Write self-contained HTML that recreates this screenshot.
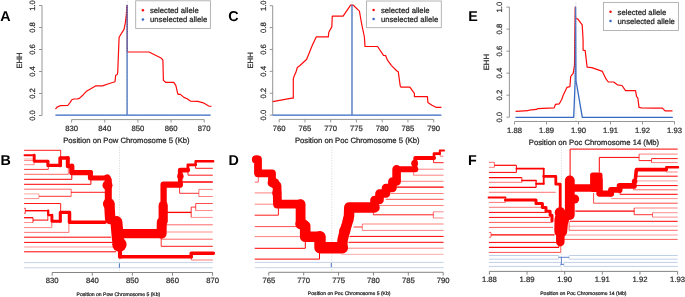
<!DOCTYPE html>
<html><head><meta charset="utf-8"><style>
html,body{margin:0;padding:0;background:#fff;width:685px;height:297px;overflow:hidden}
svg{display:block;font-family:"Liberation Sans", sans-serif;text-rendering:geometricPrecision;will-change:transform}
text{stroke:#222;stroke-width:0.22px}
text[font-weight=bold]{stroke:none}
</style></head><body>
<svg width="685" height="297" viewBox="0 0 685 297">
<rect width="685" height="297" fill="#fff"/>
<text x="0.3" y="20.6" font-size="14.3" font-weight="bold" fill="#000">A</text>
<line x1="42.00" y1="5.50" x2="42.00" y2="115.50" stroke="#8a8a8a" stroke-width="0.9" />
<line x1="39.00" y1="115.50" x2="42.00" y2="115.50" stroke="#8a8a8a" stroke-width="0.9" />
<text x="0" y="0" font-size="7.7" text-anchor="middle" fill="#333" transform="translate(35.30,115.50) rotate(-90)">0.0</text>
<line x1="39.00" y1="93.50" x2="42.00" y2="93.50" stroke="#8a8a8a" stroke-width="0.9" />
<text x="0" y="0" font-size="7.7" text-anchor="middle" fill="#333" transform="translate(35.30,93.50) rotate(-90)">0.2</text>
<line x1="39.00" y1="71.50" x2="42.00" y2="71.50" stroke="#8a8a8a" stroke-width="0.9" />
<text x="0" y="0" font-size="7.7" text-anchor="middle" fill="#333" transform="translate(35.30,71.50) rotate(-90)">0.4</text>
<line x1="39.00" y1="49.50" x2="42.00" y2="49.50" stroke="#8a8a8a" stroke-width="0.9" />
<text x="0" y="0" font-size="7.7" text-anchor="middle" fill="#333" transform="translate(35.30,49.50) rotate(-90)">0.6</text>
<line x1="39.00" y1="27.50" x2="42.00" y2="27.50" stroke="#8a8a8a" stroke-width="0.9" />
<text x="0" y="0" font-size="7.7" text-anchor="middle" fill="#333" transform="translate(35.30,27.50) rotate(-90)">0.8</text>
<line x1="39.00" y1="5.50" x2="42.00" y2="5.50" stroke="#8a8a8a" stroke-width="0.9" />
<text x="0" y="0" font-size="7.7" text-anchor="middle" fill="#333" transform="translate(35.30,5.50) rotate(-90)">1.0</text>
<text x="0" y="0" font-size="7.7" text-anchor="middle" fill="#333" transform="translate(22.30,60.50) rotate(-90)">EHH</text>
<line x1="71.60" y1="119.60" x2="204.20" y2="119.60" stroke="#8a8a8a" stroke-width="0.9" />
<line x1="71.60" y1="119.60" x2="71.60" y2="122.60" stroke="#8a8a8a" stroke-width="0.9" />
<text x="71.60" y="130.90" font-size="7.7" text-anchor="middle" fill="#333" >830</text>
<line x1="104.75" y1="119.60" x2="104.75" y2="122.60" stroke="#8a8a8a" stroke-width="0.9" />
<text x="104.75" y="130.90" font-size="7.7" text-anchor="middle" fill="#333" >840</text>
<line x1="137.90" y1="119.60" x2="137.90" y2="122.60" stroke="#8a8a8a" stroke-width="0.9" />
<text x="137.90" y="130.90" font-size="7.7" text-anchor="middle" fill="#333" >850</text>
<line x1="171.05" y1="119.60" x2="171.05" y2="122.60" stroke="#8a8a8a" stroke-width="0.9" />
<text x="171.05" y="130.90" font-size="7.7" text-anchor="middle" fill="#333" >860</text>
<line x1="204.20" y1="119.60" x2="204.20" y2="122.60" stroke="#8a8a8a" stroke-width="0.9" />
<text x="204.20" y="130.90" font-size="7.7" text-anchor="middle" fill="#333" >870</text>
<text x="126.40" y="143.30" font-size="7.7" text-anchor="middle" fill="#222" >Position on Pow Chromosome 5 (Kb)</text>
<polyline points="55.5,109.1 57.1,107.1 60.1,105.7 67.8,105.5 70.2,102.4 71.8,99.8 73.8,99.0 77.3,99.0 79.3,98.4 83.3,94.7 86.4,91.3 90.4,88.9 95.5,85.9 102.5,85.9 108.6,83.8 115.0,81.8 115.7,75.2 117.3,74.5 117.7,72.5 119.1,37.2 124.1,29.1 125.4,22.4 126.4,14.1 126.8,5.7 127.3,5.7 127.3,52.0 149.0,52.0 161.5,58.3 162.9,60.2 163.4,80.4 165.6,82.3 173.7,82.3 175.8,85.3 177.7,93.3 178.2,94.4 180.4,94.4 183.9,97.4 187.1,98.7 190.4,101.1 197.9,101.4 203.3,102.8 208.7,106.0 211.4,106.3" fill="none" stroke="#ff0a0a" stroke-width="1.2" stroke-linejoin="round" />
<polyline points="55.4,115.2 127.1,115.2 127.1,5.5 127.1,115.2 210.6,115.2" fill="none" stroke="#3568c2" stroke-width="1.3" stroke-linejoin="round" />
<line x1="127.10" y1="1.00" x2="127.10" y2="115.00" stroke="#bbb" stroke-width="0.6" stroke-dasharray="1.2,1.2"/>
<rect x="135.7" y="0.8" width="74.7" height="27.6" fill="#fff" stroke="#a8a8a8" stroke-width="0.85"/>
<circle cx="142.9" cy="10.3" r="1.25" fill="#ff0a0a"/>
<circle cx="142.9" cy="19.5" r="1.25" fill="#3568c2"/>
<text x="150.00" y="13.00" font-size="7.7" text-anchor="start" fill="#222" >selected allele</text>
<text x="150.00" y="22.20" font-size="7.7" text-anchor="start" fill="#222" >unselected allele</text>
<text x="228.3" y="20.6" font-size="14.3" font-weight="bold" fill="#000">C</text>
<line x1="272.70" y1="5.70" x2="272.70" y2="115.10" stroke="#8a8a8a" stroke-width="0.9" />
<line x1="269.70" y1="115.10" x2="272.70" y2="115.10" stroke="#8a8a8a" stroke-width="0.9" />
<text x="0" y="0" font-size="7.7" text-anchor="middle" fill="#333" transform="translate(265.90,115.10) rotate(-90)">0.0</text>
<line x1="269.70" y1="93.22" x2="272.70" y2="93.22" stroke="#8a8a8a" stroke-width="0.9" />
<text x="0" y="0" font-size="7.7" text-anchor="middle" fill="#333" transform="translate(265.90,93.22) rotate(-90)">0.2</text>
<line x1="269.70" y1="71.34" x2="272.70" y2="71.34" stroke="#8a8a8a" stroke-width="0.9" />
<text x="0" y="0" font-size="7.7" text-anchor="middle" fill="#333" transform="translate(265.90,71.34) rotate(-90)">0.4</text>
<line x1="269.70" y1="49.46" x2="272.70" y2="49.46" stroke="#8a8a8a" stroke-width="0.9" />
<text x="0" y="0" font-size="7.7" text-anchor="middle" fill="#333" transform="translate(265.90,49.46) rotate(-90)">0.6</text>
<line x1="269.70" y1="27.58" x2="272.70" y2="27.58" stroke="#8a8a8a" stroke-width="0.9" />
<text x="0" y="0" font-size="7.7" text-anchor="middle" fill="#333" transform="translate(265.90,27.58) rotate(-90)">0.8</text>
<line x1="269.70" y1="5.70" x2="272.70" y2="5.70" stroke="#8a8a8a" stroke-width="0.9" />
<text x="0" y="0" font-size="7.7" text-anchor="middle" fill="#333" transform="translate(265.90,5.70) rotate(-90)">1.0</text>
<text x="0" y="0" font-size="7.7" text-anchor="middle" fill="#333" transform="translate(252.50,60.40) rotate(-90)">EHH</text>
<line x1="279.20" y1="119.40" x2="433.70" y2="119.40" stroke="#8a8a8a" stroke-width="0.9" />
<line x1="279.20" y1="119.40" x2="279.20" y2="122.40" stroke="#8a8a8a" stroke-width="0.9" />
<text x="279.20" y="130.70" font-size="7.7" text-anchor="middle" fill="#333" >760</text>
<line x1="304.95" y1="119.40" x2="304.95" y2="122.40" stroke="#8a8a8a" stroke-width="0.9" />
<text x="304.95" y="130.70" font-size="7.7" text-anchor="middle" fill="#333" >765</text>
<line x1="330.70" y1="119.40" x2="330.70" y2="122.40" stroke="#8a8a8a" stroke-width="0.9" />
<text x="330.70" y="130.70" font-size="7.7" text-anchor="middle" fill="#333" >770</text>
<line x1="356.45" y1="119.40" x2="356.45" y2="122.40" stroke="#8a8a8a" stroke-width="0.9" />
<text x="356.45" y="130.70" font-size="7.7" text-anchor="middle" fill="#333" >775</text>
<line x1="382.20" y1="119.40" x2="382.20" y2="122.40" stroke="#8a8a8a" stroke-width="0.9" />
<text x="382.20" y="130.70" font-size="7.7" text-anchor="middle" fill="#333" >780</text>
<line x1="407.95" y1="119.40" x2="407.95" y2="122.40" stroke="#8a8a8a" stroke-width="0.9" />
<text x="407.95" y="130.70" font-size="7.7" text-anchor="middle" fill="#333" >785</text>
<line x1="433.70" y1="119.40" x2="433.70" y2="122.40" stroke="#8a8a8a" stroke-width="0.9" />
<text x="433.70" y="130.70" font-size="7.7" text-anchor="middle" fill="#333" >790</text>
<text x="357.30" y="143.30" font-size="7.7" text-anchor="middle" fill="#222" >Position on Poc Chromosome 5 (Kb)</text>
<polyline points="272.7,101.7 291.9,98.2 293.3,98.2 293.3,78.9 294.1,76.2 296.0,72.1 297.3,67.5 300.0,65.5 306.7,59.3 312.1,45.8 316.2,36.9 328.3,36.9 328.8,32.3 331.8,26.9 332.3,16.2 343.1,16.2 350.6,5.2 353.3,5.2 359.4,11.1 361.7,24.1 364.4,37.0 365.0,46.4 377.6,46.5 383.5,55.4 385.6,55.6 387.5,60.2 391.5,65.6 396.9,71.0 398.3,71.8 400.2,85.8 401.0,87.1 409.9,87.1 413.1,91.7 414.4,93.3 414.4,96.6 427.4,96.6 427.9,102.5 432.0,105.2 436.0,107.3 441.4,107.3" fill="none" stroke="#ff0a0a" stroke-width="1.2" stroke-linejoin="round" />
<polyline points="272.7,115.2 352.0,115.2 352.0,5.2 352.0,115.2 441.4,115.2" fill="none" stroke="#3568c2" stroke-width="1.3" stroke-linejoin="round" />
<line x1="352.10" y1="1.00" x2="352.10" y2="115.00" stroke="#bbb" stroke-width="0.6" stroke-dasharray="1.2,1.2"/>
<rect x="366.6" y="1.0" width="74.7" height="26.7" fill="#fff" stroke="#a8a8a8" stroke-width="0.85"/>
<circle cx="373.6" cy="9.9" r="1.25" fill="#ff0a0a"/>
<circle cx="373.6" cy="19.0" r="1.25" fill="#3568c2"/>
<text x="380.90" y="12.60" font-size="7.7" text-anchor="start" fill="#222" >selected allele</text>
<text x="380.90" y="21.70" font-size="7.7" text-anchor="start" fill="#222" >unselected allele</text>
<text x="468.2" y="20.6" font-size="14.3" font-weight="bold" fill="#000">E</text>
<line x1="509.40" y1="7.10" x2="509.40" y2="117.20" stroke="#8a8a8a" stroke-width="0.9" />
<line x1="506.40" y1="117.20" x2="509.40" y2="117.20" stroke="#8a8a8a" stroke-width="0.9" />
<text x="0" y="0" font-size="7.7" text-anchor="middle" fill="#333" transform="translate(502.30,117.20) rotate(-90)">0.0</text>
<line x1="506.40" y1="95.18" x2="509.40" y2="95.18" stroke="#8a8a8a" stroke-width="0.9" />
<text x="0" y="0" font-size="7.7" text-anchor="middle" fill="#333" transform="translate(502.30,95.18) rotate(-90)">0.2</text>
<line x1="506.40" y1="73.16" x2="509.40" y2="73.16" stroke="#8a8a8a" stroke-width="0.9" />
<text x="0" y="0" font-size="7.7" text-anchor="middle" fill="#333" transform="translate(502.30,73.16) rotate(-90)">0.4</text>
<line x1="506.40" y1="51.14" x2="509.40" y2="51.14" stroke="#8a8a8a" stroke-width="0.9" />
<text x="0" y="0" font-size="7.7" text-anchor="middle" fill="#333" transform="translate(502.30,51.14) rotate(-90)">0.6</text>
<line x1="506.40" y1="29.12" x2="509.40" y2="29.12" stroke="#8a8a8a" stroke-width="0.9" />
<text x="0" y="0" font-size="7.7" text-anchor="middle" fill="#333" transform="translate(502.30,29.12) rotate(-90)">0.8</text>
<line x1="506.40" y1="7.10" x2="509.40" y2="7.10" stroke="#8a8a8a" stroke-width="0.9" />
<text x="0" y="0" font-size="7.7" text-anchor="middle" fill="#333" transform="translate(502.30,7.10) rotate(-90)">1.0</text>
<text x="0" y="0" font-size="7.7" text-anchor="middle" fill="#333" transform="translate(489.20,62.15) rotate(-90)">EHH</text>
<line x1="514.50" y1="121.50" x2="674.50" y2="121.50" stroke="#8a8a8a" stroke-width="0.9" />
<line x1="514.50" y1="121.50" x2="514.50" y2="124.50" stroke="#8a8a8a" stroke-width="0.9" />
<text x="514.50" y="133.00" font-size="7.7" text-anchor="middle" fill="#333" >1.88</text>
<line x1="546.50" y1="121.50" x2="546.50" y2="124.50" stroke="#8a8a8a" stroke-width="0.9" />
<text x="546.50" y="133.00" font-size="7.7" text-anchor="middle" fill="#333" >1.89</text>
<line x1="578.50" y1="121.50" x2="578.50" y2="124.50" stroke="#8a8a8a" stroke-width="0.9" />
<text x="578.50" y="133.00" font-size="7.7" text-anchor="middle" fill="#333" >1.90</text>
<line x1="610.50" y1="121.50" x2="610.50" y2="124.50" stroke="#8a8a8a" stroke-width="0.9" />
<text x="610.50" y="133.00" font-size="7.7" text-anchor="middle" fill="#333" >1.91</text>
<line x1="642.50" y1="121.50" x2="642.50" y2="124.50" stroke="#8a8a8a" stroke-width="0.9" />
<text x="642.50" y="133.00" font-size="7.7" text-anchor="middle" fill="#333" >1.92</text>
<line x1="674.50" y1="121.50" x2="674.50" y2="124.50" stroke="#8a8a8a" stroke-width="0.9" />
<text x="674.50" y="133.00" font-size="7.7" text-anchor="middle" fill="#333" >1.93</text>
<text x="594.00" y="144.60" font-size="7.7" text-anchor="middle" fill="#222" >Position on Poc Chromosome 14 (Mb)</text>
<polyline points="515.6,111.4 520.1,111.2 527.7,110.7 529.0,110.2 536.5,109.4 537.8,108.6 554.2,107.9 555.5,104.3 559.3,103.8 561.8,99.3 563.1,95.5 566.9,87.4 569.9,86.7 570.7,76.5 571.9,74.8 573.2,73.3 574.5,65.2 575.2,7.1 575.6,18.5 577.7,18.9 582.2,24.9 583.1,40.0 583.1,50.1 585.2,50.6 587.1,67.1 591.8,67.6 602.4,71.4 606.0,78.9 608.3,82.0 613.7,82.0 617.3,84.8 622.0,85.5 625.5,90.7 635.5,90.7 636.6,96.6 637.8,97.8 639.0,107.3 641.5,107.8 653.0,108.1 662.4,108.1 665.1,110.9 672.5,110.9" fill="none" stroke="#ff0a0a" stroke-width="1.2" stroke-linejoin="round" />
<polyline points="515.4,117.3 573.7,117.3 575.2,80.5 575.6,7.1 576.0,80.5 582.3,117.3 672.8,117.3" fill="none" stroke="#3568c2" stroke-width="1.3" stroke-linejoin="round" />
<line x1="575.90" y1="2.50" x2="575.90" y2="121.00" stroke="#bbb" stroke-width="0.6" stroke-dasharray="1.2,1.2"/>
<rect x="603.5" y="2.4" width="74.9" height="28.1" fill="#fff" stroke="#a8a8a8" stroke-width="0.85"/>
<circle cx="610.5" cy="11.8" r="1.25" fill="#ff0a0a"/>
<circle cx="610.5" cy="21.0" r="1.25" fill="#3568c2"/>
<text x="617.60" y="14.50" font-size="7.7" text-anchor="start" fill="#222" >selected allele</text>
<text x="617.60" y="23.70" font-size="7.7" text-anchor="start" fill="#222" >unselected allele</text>
<text x="0.5" y="164.7" font-size="14.3" font-weight="bold" fill="#000">B</text>
<text x="228.4" y="164.7" font-size="14.3" font-weight="bold" fill="#000">D</text>
<text x="467.9" y="164.7" font-size="14.3" font-weight="bold" fill="#000">F</text>
<line x1="119.50" y1="147.00" x2="119.50" y2="272.00" stroke="#c8c8c8" stroke-width="0.6" stroke-dasharray="1.3,1.3"/>
<line x1="24.10" y1="262.60" x2="212.80" y2="262.60" stroke="#c5d2e8" stroke-width="1.0" />
<line x1="24.10" y1="267.80" x2="212.80" y2="267.80" stroke="#c5d2e8" stroke-width="1.0" />
<line x1="119.40" y1="263.30" x2="119.40" y2="267.80" stroke="#3a66c0" stroke-width="0.9" />
<line x1="331.80" y1="147.00" x2="331.80" y2="272.00" stroke="#c8c8c8" stroke-width="0.6" stroke-dasharray="1.3,1.3"/>
<line x1="254.70" y1="262.40" x2="443.60" y2="262.40" stroke="#c5d2e8" stroke-width="1.0" />
<line x1="254.70" y1="267.70" x2="443.60" y2="267.70" stroke="#c5d2e8" stroke-width="1.0" />
<line x1="331.30" y1="263.00" x2="331.30" y2="267.20" stroke="#3a66c0" stroke-width="0.9" />
<line x1="561.40" y1="147.00" x2="561.40" y2="272.00" stroke="#c8c8c8" stroke-width="0.6" stroke-dasharray="1.3,1.3"/>
<line x1="488.90" y1="255.50" x2="558.60" y2="255.50" stroke="#c0cfe8" stroke-width="1.0" />
<line x1="569.10" y1="255.50" x2="677.70" y2="255.50" stroke="#c0cfe8" stroke-width="1.0" />
<line x1="488.90" y1="259.20" x2="558.60" y2="259.20" stroke="#c0cfe8" stroke-width="1.0" />
<line x1="569.10" y1="259.20" x2="677.70" y2="259.20" stroke="#c0cfe8" stroke-width="1.0" />
<line x1="558.60" y1="255.50" x2="558.60" y2="259.20" stroke="#c0cfe8" stroke-width="0.8" />
<line x1="569.10" y1="255.50" x2="569.10" y2="259.20" stroke="#c0cfe8" stroke-width="0.8" />
<line x1="558.60" y1="257.30" x2="569.10" y2="257.30" stroke="#3a66c0" stroke-width="0.8" />
<line x1="561.40" y1="257.30" x2="561.40" y2="264.40" stroke="#3a66c0" stroke-width="0.8" />
<line x1="488.90" y1="262.40" x2="560.60" y2="262.40" stroke="#c0cfe8" stroke-width="1.0" />
<line x1="563.90" y1="262.40" x2="677.70" y2="262.40" stroke="#c0cfe8" stroke-width="1.0" />
<line x1="488.90" y1="266.40" x2="560.60" y2="266.40" stroke="#c0cfe8" stroke-width="1.0" />
<line x1="563.90" y1="266.40" x2="677.70" y2="266.40" stroke="#c0cfe8" stroke-width="1.0" />
<line x1="560.60" y1="262.40" x2="560.60" y2="266.40" stroke="#c0cfe8" stroke-width="0.8" />
<line x1="563.90" y1="262.40" x2="563.90" y2="266.40" stroke="#c0cfe8" stroke-width="0.8" />
<line x1="560.60" y1="264.40" x2="563.90" y2="264.40" stroke="#3a66c0" stroke-width="0.8" />
<line x1="52.20" y1="272.50" x2="212.60" y2="272.50" stroke="#777" stroke-width="0.9" />
<line x1="52.20" y1="272.50" x2="52.20" y2="275.70" stroke="#777" stroke-width="0.9" />
<text x="52.20" y="283.30" font-size="7.7" text-anchor="middle" fill="#333" >830</text>
<line x1="92.30" y1="272.50" x2="92.30" y2="275.70" stroke="#777" stroke-width="0.9" />
<text x="92.30" y="283.30" font-size="7.7" text-anchor="middle" fill="#333" >840</text>
<line x1="132.40" y1="272.50" x2="132.40" y2="275.70" stroke="#777" stroke-width="0.9" />
<text x="132.40" y="283.30" font-size="7.7" text-anchor="middle" fill="#333" >850</text>
<line x1="172.50" y1="272.50" x2="172.50" y2="275.70" stroke="#777" stroke-width="0.9" />
<text x="172.50" y="283.30" font-size="7.7" text-anchor="middle" fill="#333" >860</text>
<line x1="212.60" y1="272.50" x2="212.60" y2="275.70" stroke="#777" stroke-width="0.9" />
<text x="212.60" y="283.30" font-size="7.7" text-anchor="middle" fill="#333" >870</text>
<text x="118.40" y="295.60" font-size="5.1" text-anchor="middle" fill="#222" >Position on Pow Chromosome 5 (Kb)</text>
<line x1="268.80" y1="272.30" x2="443.20" y2="272.30" stroke="#777" stroke-width="0.9" />
<line x1="268.80" y1="272.30" x2="268.80" y2="275.50" stroke="#777" stroke-width="0.9" />
<text x="268.80" y="283.20" font-size="7.7" text-anchor="middle" fill="#333" >765</text>
<line x1="303.68" y1="272.30" x2="303.68" y2="275.50" stroke="#777" stroke-width="0.9" />
<text x="303.68" y="283.20" font-size="7.7" text-anchor="middle" fill="#333" >770</text>
<line x1="338.56" y1="272.30" x2="338.56" y2="275.50" stroke="#777" stroke-width="0.9" />
<text x="338.56" y="283.20" font-size="7.7" text-anchor="middle" fill="#333" >775</text>
<line x1="373.44" y1="272.30" x2="373.44" y2="275.50" stroke="#777" stroke-width="0.9" />
<text x="373.44" y="283.20" font-size="7.7" text-anchor="middle" fill="#333" >780</text>
<line x1="408.32" y1="272.30" x2="408.32" y2="275.50" stroke="#777" stroke-width="0.9" />
<text x="408.32" y="283.20" font-size="7.7" text-anchor="middle" fill="#333" >785</text>
<line x1="443.20" y1="272.30" x2="443.20" y2="275.50" stroke="#777" stroke-width="0.9" />
<text x="443.20" y="283.20" font-size="7.7" text-anchor="middle" fill="#333" >790</text>
<text x="349.20" y="295.30" font-size="5.1" text-anchor="middle" fill="#222" >Position on Poc Chromosome 5 (Kb)</text>
<line x1="489.40" y1="271.40" x2="677.60" y2="271.40" stroke="#777" stroke-width="0.9" />
<line x1="489.40" y1="271.40" x2="489.40" y2="274.60" stroke="#777" stroke-width="0.9" />
<text x="489.40" y="282.30" font-size="7.7" text-anchor="middle" fill="#333" >1.88</text>
<line x1="527.04" y1="271.40" x2="527.04" y2="274.60" stroke="#777" stroke-width="0.9" />
<text x="527.04" y="282.30" font-size="7.7" text-anchor="middle" fill="#333" >1.89</text>
<line x1="564.68" y1="271.40" x2="564.68" y2="274.60" stroke="#777" stroke-width="0.9" />
<text x="564.68" y="282.30" font-size="7.7" text-anchor="middle" fill="#333" >1.90</text>
<line x1="602.32" y1="271.40" x2="602.32" y2="274.60" stroke="#777" stroke-width="0.9" />
<text x="602.32" y="282.30" font-size="7.7" text-anchor="middle" fill="#333" >1.91</text>
<line x1="639.96" y1="271.40" x2="639.96" y2="274.60" stroke="#777" stroke-width="0.9" />
<text x="639.96" y="282.30" font-size="7.7" text-anchor="middle" fill="#333" >1.92</text>
<line x1="677.60" y1="271.40" x2="677.60" y2="274.60" stroke="#777" stroke-width="0.9" />
<text x="677.60" y="282.30" font-size="7.7" text-anchor="middle" fill="#333" >1.93</text>
<text x="583.40" y="294.60" font-size="5.1" text-anchor="middle" fill="#222" >Position on Poc Chromosome 14 (Mb)</text>
<polyline points="24.10,150.30 60.70,150.30" fill="none" stroke="#ff0000" stroke-width="0.9" stroke-linecap="butt" stroke-linejoin="round"/>
<polyline points="60.70,150.30 60.70,157.70" fill="none" stroke="#ff0000" stroke-width="0.9" stroke-linecap="butt" stroke-linejoin="round"/>
<polyline points="24.10,158.90 33.00,158.90" fill="none" stroke="#ff0000" stroke-width="0.3" stroke-linecap="butt" stroke-linejoin="round"/>
<polyline points="24.10,160.40 34.20,160.40" fill="none" stroke="#ff0000" stroke-width="0.5" stroke-linecap="butt" stroke-linejoin="round"/>
<polyline points="24.10,164.70 34.20,164.70" fill="none" stroke="#ff0000" stroke-width="0.45" stroke-linecap="butt" stroke-linejoin="round"/>
<polyline points="34.20,160.30 34.20,164.70" fill="none" stroke="#ff0000" stroke-width="0.45" stroke-linecap="butt" stroke-linejoin="round"/>
<polyline points="24.10,169.40 48.30,169.40" fill="none" stroke="#ff0000" stroke-width="0.8" stroke-linecap="butt" stroke-linejoin="round"/>
<polyline points="48.30,165.30 48.30,169.40" fill="none" stroke="#ff0000" stroke-width="0.8" stroke-linecap="butt" stroke-linejoin="round"/>
<polyline points="24.10,174.30 68.30,174.30" fill="none" stroke="#ff0000" stroke-width="0.6" stroke-linecap="butt" stroke-linejoin="round"/>
<polyline points="68.30,166.00 68.30,174.30" fill="none" stroke="#ff0000" stroke-width="0.6" stroke-linecap="butt" stroke-linejoin="round"/>
<polyline points="24.10,179.30 71.80,179.30" fill="none" stroke="#ff0000" stroke-width="1.0" stroke-linecap="butt" stroke-linejoin="round"/>
<polyline points="71.80,171.80 71.80,179.30" fill="none" stroke="#ff0000" stroke-width="1.0" stroke-linecap="butt" stroke-linejoin="round"/>
<polyline points="24.10,184.30 90.90,184.30" fill="none" stroke="#ff0000" stroke-width="1.0" stroke-linecap="butt" stroke-linejoin="round"/>
<polyline points="90.90,178.00 90.90,184.30" fill="none" stroke="#ff0000" stroke-width="1.0" stroke-linecap="butt" stroke-linejoin="round"/>
<polyline points="24.60,155.30 34.20,155.30" fill="none" stroke="#ff0000" stroke-width="2.1" stroke-linecap="round" stroke-linejoin="round"/>
<polyline points="34.20,155.30 34.20,161.30 47.90,161.30" fill="none" stroke="#ff0000" stroke-width="2.9" stroke-linecap="round" stroke-linejoin="round"/>
<polyline points="47.90,161.30 47.90,165.40 60.20,165.40" fill="none" stroke="#ff0000" stroke-width="3.1" stroke-linecap="round" stroke-linejoin="round"/>
<polyline points="60.20,165.40 60.20,158.00 67.80,158.00" fill="none" stroke="#ff0000" stroke-width="3.7" stroke-linecap="round" stroke-linejoin="round"/>
<polyline points="67.80,158.00 67.80,166.20 71.80,166.20" fill="none" stroke="#ff0000" stroke-width="4.0" stroke-linecap="round" stroke-linejoin="round"/>
<polyline points="71.80,166.20 71.80,172.60 90.40,172.60" fill="none" stroke="#ff0000" stroke-width="5.2" stroke-linecap="round" stroke-linejoin="round"/>
<polyline points="90.40,172.60 90.40,177.90 107.20,177.90" fill="none" stroke="#ff0000" stroke-width="5.0" stroke-linecap="round" stroke-linejoin="round"/>
<polyline points="24.10,189.20 71.20,189.20" fill="none" stroke="#ff0000" stroke-width="0.6" stroke-linecap="butt" stroke-linejoin="round"/>
<polyline points="71.20,189.20 71.20,196.40" fill="none" stroke="#ff0000" stroke-width="0.6" stroke-linecap="butt" stroke-linejoin="round"/>
<polyline points="24.10,193.90 38.90,193.90" fill="none" stroke="#ff0000" stroke-width="0.35" stroke-linecap="butt" stroke-linejoin="round"/>
<polyline points="38.90,193.90 38.90,198.60" fill="none" stroke="#ff0000" stroke-width="0.35" stroke-linecap="butt" stroke-linejoin="round"/>
<polyline points="24.10,198.60 38.90,198.60" fill="none" stroke="#ff0000" stroke-width="0.45" stroke-linecap="butt" stroke-linejoin="round"/>
<polyline points="38.90,196.30 71.20,196.30" fill="none" stroke="#ff0000" stroke-width="0.8" stroke-linecap="butt" stroke-linejoin="round"/>
<polyline points="71.20,192.30 105.50,192.30" fill="none" stroke="#ff0000" stroke-width="0.9" stroke-linecap="butt" stroke-linejoin="round"/>
<polyline points="24.10,203.50 60.70,203.50" fill="none" stroke="#ff0000" stroke-width="0.9" stroke-linecap="butt" stroke-linejoin="round"/>
<polyline points="60.70,203.50 60.70,212.10" fill="none" stroke="#ff0000" stroke-width="0.9" stroke-linecap="butt" stroke-linejoin="round"/>
<polyline points="24.10,208.30 25.30,208.30" fill="none" stroke="#ff0000" stroke-width="0.8" stroke-linecap="butt" stroke-linejoin="round"/>
<polyline points="24.10,213.30 25.30,213.30" fill="none" stroke="#ff0000" stroke-width="0.8" stroke-linecap="butt" stroke-linejoin="round"/>
<polyline points="25.30,208.30 25.30,213.30" fill="none" stroke="#ff0000" stroke-width="0.8" stroke-linecap="butt" stroke-linejoin="round"/>
<polyline points="25.30,210.70 48.20,210.70" fill="none" stroke="#ff0000" stroke-width="1.4" stroke-linecap="butt" stroke-linejoin="round"/>
<polyline points="48.20,210.70 48.20,215.10 51.90,215.10" fill="none" stroke="#ff0000" stroke-width="2.3" stroke-linecap="round" stroke-linejoin="round"/>
<polyline points="51.90,215.10 51.90,221.20 60.30,221.20" fill="none" stroke="#ff0000" stroke-width="2.9" stroke-linecap="round" stroke-linejoin="round"/>
<polyline points="60.30,221.20 60.30,212.40 69.50,212.40" fill="none" stroke="#ff0000" stroke-width="3.1" stroke-linecap="round" stroke-linejoin="round"/>
<polyline points="69.50,212.40 69.50,222.20 105.00,222.20" fill="none" stroke="#ff0000" stroke-width="3.5" stroke-linecap="round" stroke-linejoin="round"/>
<polyline points="24.10,217.70 33.00,217.70" fill="none" stroke="#ff0000" stroke-width="1.3" stroke-linecap="butt" stroke-linejoin="round"/>
<polyline points="33.00,217.70 33.00,222.50" fill="none" stroke="#ff0000" stroke-width="0.9" stroke-linecap="butt" stroke-linejoin="round"/>
<polyline points="33.00,220.10 48.30,220.10" fill="none" stroke="#ff0000" stroke-width="1.0" stroke-linecap="butt" stroke-linejoin="round"/>
<polyline points="47.80,215.60 47.80,220.10" fill="none" stroke="#ff0000" stroke-width="0.8" stroke-linecap="butt" stroke-linejoin="round"/>
<polyline points="24.10,222.50 33.00,222.50" fill="none" stroke="#ff0000" stroke-width="0.45" stroke-linecap="butt" stroke-linejoin="round"/>
<polyline points="24.10,227.60 51.80,227.60" fill="none" stroke="#ff0000" stroke-width="0.5" stroke-linecap="butt" stroke-linejoin="round"/>
<polyline points="51.80,221.50 51.80,227.20" fill="none" stroke="#ff0000" stroke-width="0.6" stroke-linecap="butt" stroke-linejoin="round"/>
<polyline points="24.10,232.40 68.90,232.40" fill="none" stroke="#ff0000" stroke-width="0.55" stroke-linecap="butt" stroke-linejoin="round"/>
<polyline points="68.90,222.10 68.90,232.40" fill="none" stroke="#ff0000" stroke-width="0.55" stroke-linecap="butt" stroke-linejoin="round"/>
<polyline points="24.10,237.20 111.00,237.20" fill="none" stroke="#ff0000" stroke-width="1.0" stroke-linecap="butt" stroke-linejoin="round"/>
<polyline points="24.10,242.40 113.00,242.40" fill="none" stroke="#ff0000" stroke-width="1.0" stroke-linecap="butt" stroke-linejoin="round"/>
<polyline points="24.10,247.00 114.00,247.00" fill="none" stroke="#ff0000" stroke-width="0.4" stroke-linecap="butt" stroke-linejoin="round"/>
<polyline points="24.10,251.80 116.00,251.80" fill="none" stroke="#ff0000" stroke-width="1.0" stroke-linecap="butt" stroke-linejoin="round"/>
<polyline points="107.20,177.90 108.30,180.00 108.30,200.00" fill="none" stroke="#ff0000" stroke-width="7.0" stroke-linecap="round" stroke-linejoin="round"/>
<polyline points="109.40,205.00 110.20,219.00" fill="none" stroke="#ff0000" stroke-width="10.5" stroke-linecap="round" stroke-linejoin="round"/>
<polyline points="116.40,222.00 118.00,240.00" fill="none" stroke="#ff0000" stroke-width="12.0" stroke-linecap="round" stroke-linejoin="round"/>
<polyline points="120.00,244.00 120.00,256.70" fill="none" stroke="#ff0000" stroke-width="4.1" stroke-linecap="round" stroke-linejoin="round"/>
<polyline points="120.00,256.70 191.20,256.70" fill="none" stroke="#ff0000" stroke-width="3.6" stroke-linecap="round" stroke-linejoin="round"/>
<polyline points="191.20,256.70 191.20,253.20 213.40,253.20" fill="none" stroke="#ff0000" stroke-width="3.4" stroke-linecap="round" stroke-linejoin="round"/>
<polyline points="191.40,260.00 212.80,260.00" fill="none" stroke="#ff0000" stroke-width="0.55" stroke-linecap="butt" stroke-linejoin="round"/>
<polyline points="191.40,256.70 191.40,260.00" fill="none" stroke="#ff0000" stroke-width="0.55" stroke-linecap="butt" stroke-linejoin="round"/>
<polyline points="122.00,233.60 161.40,233.60" fill="none" stroke="#ff0000" stroke-width="9.4" stroke-linecap="round" stroke-linejoin="round"/>
<polyline points="161.60,233.60 161.80,222.00" fill="none" stroke="#ff0000" stroke-width="10.0" stroke-linecap="round" stroke-linejoin="round"/>
<polyline points="163.20,221.00 163.20,205.50" fill="none" stroke="#ff0000" stroke-width="9.2" stroke-linecap="round" stroke-linejoin="round"/>
<polyline points="163.60,206.00 163.60,184.70 179.80,184.70" fill="none" stroke="#ff0000" stroke-width="6.3" stroke-linecap="round" stroke-linejoin="round"/>
<polyline points="180.20,184.70 180.20,170.10 187.90,170.10" fill="none" stroke="#ff0000" stroke-width="4.6" stroke-linecap="round" stroke-linejoin="round"/>
<polyline points="187.90,170.10 187.90,164.80 195.60,164.80" fill="none" stroke="#ff0000" stroke-width="2.8" stroke-linecap="round" stroke-linejoin="round"/>
<polyline points="195.60,164.80 195.60,161.30 213.20,161.30" fill="none" stroke="#ff0000" stroke-width="2.4" stroke-linecap="round" stroke-linejoin="round"/>
<polyline points="195.60,168.30 212.80,168.30" fill="none" stroke="#ff0000" stroke-width="0.9" stroke-linecap="butt" stroke-linejoin="round"/>
<polyline points="195.60,164.80 195.60,168.30" fill="none" stroke="#ff0000" stroke-width="0.9" stroke-linecap="butt" stroke-linejoin="round"/>
<polyline points="188.00,175.20 212.80,175.20" fill="none" stroke="#ff0000" stroke-width="0.9" stroke-linecap="butt" stroke-linejoin="round"/>
<polyline points="188.00,170.10 188.00,175.20" fill="none" stroke="#ff0000" stroke-width="0.9" stroke-linecap="butt" stroke-linejoin="round"/>
<polyline points="180.00,182.00 212.80,182.00" fill="none" stroke="#ff0000" stroke-width="1.4" stroke-linecap="butt" stroke-linejoin="round"/>
<polyline points="179.60,186.00 179.60,193.30" fill="none" stroke="#ff0000" stroke-width="0.8" stroke-linecap="butt" stroke-linejoin="round"/>
<polyline points="179.60,193.30 198.90,193.30" fill="none" stroke="#ff0000" stroke-width="0.8" stroke-linecap="butt" stroke-linejoin="round"/>
<polyline points="198.90,189.40 198.90,196.50" fill="none" stroke="#ff0000" stroke-width="0.5" stroke-linecap="butt" stroke-linejoin="round"/>
<polyline points="198.90,189.40 212.80,189.40" fill="none" stroke="#ff0000" stroke-width="0.5" stroke-linecap="butt" stroke-linejoin="round"/>
<polyline points="198.90,196.50 212.80,196.50" fill="none" stroke="#ff0000" stroke-width="0.5" stroke-linecap="butt" stroke-linejoin="round"/>
<polyline points="166.00,212.40 191.20,212.40" fill="none" stroke="#ff0000" stroke-width="1.3" stroke-linecap="butt" stroke-linejoin="round"/>
<polyline points="191.20,207.10 191.20,217.40" fill="none" stroke="#ff0000" stroke-width="0.8" stroke-linecap="butt" stroke-linejoin="round"/>
<polyline points="191.20,207.10 195.70,207.10" fill="none" stroke="#ff0000" stroke-width="0.8" stroke-linecap="butt" stroke-linejoin="round"/>
<polyline points="195.70,203.50 195.70,210.50" fill="none" stroke="#ff0000" stroke-width="0.7" stroke-linecap="butt" stroke-linejoin="round"/>
<polyline points="195.70,203.50 212.80,203.50" fill="none" stroke="#ff0000" stroke-width="0.7" stroke-linecap="butt" stroke-linejoin="round"/>
<polyline points="195.70,210.50 212.80,210.50" fill="none" stroke="#ff0000" stroke-width="0.45" stroke-linecap="butt" stroke-linejoin="round"/>
<polyline points="191.20,217.40 212.80,217.40" fill="none" stroke="#ff0000" stroke-width="0.45" stroke-linecap="butt" stroke-linejoin="round"/>
<polyline points="165.00,224.80 212.80,224.80" fill="none" stroke="#ff0000" stroke-width="0.6" stroke-linecap="butt" stroke-linejoin="round"/>
<polyline points="165.00,232.00 212.80,232.00" fill="none" stroke="#ff0000" stroke-width="0.45" stroke-linecap="butt" stroke-linejoin="round"/>
<polyline points="161.20,236.00 161.20,246.30" fill="none" stroke="#ff0000" stroke-width="0.8" stroke-linecap="butt" stroke-linejoin="round"/>
<polyline points="161.20,239.20 212.80,239.20" fill="none" stroke="#ff0000" stroke-width="0.6" stroke-linecap="butt" stroke-linejoin="round"/>
<polyline points="161.20,246.30 212.80,246.30" fill="none" stroke="#ff0000" stroke-width="0.9" stroke-linecap="butt" stroke-linejoin="round"/>
<circle cx="180.4" cy="176.2" r="3.2" fill="#ff0000"/>
<circle cx="107.5" cy="185.2" r="5.0" fill="#ff0000"/>
<circle cx="108.8" cy="203.8" r="5.9" fill="#ff0000"/>
<circle cx="119.4" cy="244.6" r="7.2" fill="#ff0000"/>
<polyline points="254.70,182.10 258.30,182.10" fill="none" stroke="#ff0000" stroke-width="0.6" stroke-linecap="butt" stroke-linejoin="round"/>
<polyline points="258.30,177.00 258.30,182.10" fill="none" stroke="#ff0000" stroke-width="0.6" stroke-linecap="butt" stroke-linejoin="round"/>
<polyline points="254.70,192.90 273.00,192.90" fill="none" stroke="#ff0000" stroke-width="0.5" stroke-linecap="butt" stroke-linejoin="round"/>
<polyline points="254.70,204.20 274.00,204.20" fill="none" stroke="#ff0000" stroke-width="0.5" stroke-linecap="butt" stroke-linejoin="round"/>
<polyline points="254.70,215.20 278.40,215.20" fill="none" stroke="#ff0000" stroke-width="0.9" stroke-linecap="butt" stroke-linejoin="round"/>
<polyline points="278.40,208.00 278.40,215.20" fill="none" stroke="#ff0000" stroke-width="0.9" stroke-linecap="butt" stroke-linejoin="round"/>
<polyline points="254.70,226.60 296.00,226.60" fill="none" stroke="#ff0000" stroke-width="0.7" stroke-linecap="butt" stroke-linejoin="round"/>
<polyline points="254.70,236.60 301.00,236.60" fill="none" stroke="#ff0000" stroke-width="0.5" stroke-linecap="butt" stroke-linejoin="round"/>
<polyline points="254.70,248.30 305.30,248.30" fill="none" stroke="#ff0000" stroke-width="1.0" stroke-linecap="butt" stroke-linejoin="round"/>
<polyline points="305.30,241.50 305.30,248.30" fill="none" stroke="#ff0000" stroke-width="1.0" stroke-linecap="butt" stroke-linejoin="round"/>
<polyline points="254.70,259.10 319.50,259.10" fill="none" stroke="#ff0000" stroke-width="1.0" stroke-linecap="butt" stroke-linejoin="round"/>
<polyline points="319.50,253.00 319.50,259.10" fill="none" stroke="#ff0000" stroke-width="1.0" stroke-linecap="butt" stroke-linejoin="round"/>
<polyline points="255.80,159.50 258.00,159.50 258.00,173.30 272.00,173.30 272.00,182.70" fill="none" stroke="#ff0000" stroke-width="7.8" stroke-linecap="round" stroke-linejoin="round"/>
<polyline points="272.00,182.70 277.00,185.50 277.50,204.20 300.60,204.20" fill="none" stroke="#ff0000" stroke-width="8.8" stroke-linecap="round" stroke-linejoin="round"/>
<polyline points="300.60,204.20 300.60,224.00" fill="none" stroke="#ff0000" stroke-width="9.8" stroke-linecap="round" stroke-linejoin="round"/>
<polyline points="300.60,224.00 305.20,226.00 305.20,236.80 320.00,236.80" fill="none" stroke="#ff0000" stroke-width="10.6" stroke-linecap="round" stroke-linejoin="round"/>
<polyline points="320.00,236.80 320.00,247.70 342.40,247.70" fill="none" stroke="#ff0000" stroke-width="11.4" stroke-linecap="round" stroke-linejoin="round"/>
<polyline points="342.00,247.70 342.60,240.00 344.50,232.00 347.00,224.00 349.00,216.00 349.30,207.40 374.50,207.40" fill="none" stroke="#ff0000" stroke-width="10.5" stroke-linecap="round" stroke-linejoin="round"/>
<polyline points="374.50,207.40 374.50,200.00 379.50,200.00 379.50,193.50 386.00,193.50 386.00,188.00 392.40,188.00 392.40,181.50 396.60,181.50 396.60,169.20" fill="none" stroke="#ff0000" stroke-width="8.6" stroke-linecap="round" stroke-linejoin="round"/>
<polyline points="396.60,169.20 415.30,169.20" fill="none" stroke="#ff0000" stroke-width="6.0" stroke-linecap="round" stroke-linejoin="round"/>
<polyline points="415.30,169.20 415.30,158.00 434.00,158.00" fill="none" stroke="#ff0000" stroke-width="4.0" stroke-linecap="round" stroke-linejoin="round"/>
<polyline points="434.00,158.00 434.00,153.60 439.80,153.60" fill="none" stroke="#ff0000" stroke-width="2.7" stroke-linecap="round" stroke-linejoin="round"/>
<polyline points="439.80,153.60 439.80,150.50 444.00,150.50" fill="none" stroke="#ff0000" stroke-width="2.0" stroke-linecap="round" stroke-linejoin="round"/>
<polyline points="440.10,156.20 443.60,156.20" fill="none" stroke="#ff0000" stroke-width="0.5" stroke-linecap="butt" stroke-linejoin="round"/>
<polyline points="440.10,153.60 440.10,156.20" fill="none" stroke="#ff0000" stroke-width="0.5" stroke-linecap="butt" stroke-linejoin="round"/>
<polyline points="433.60,162.70 443.60,162.70" fill="none" stroke="#ff0000" stroke-width="0.9" stroke-linecap="butt" stroke-linejoin="round"/>
<polyline points="433.60,158.00 433.60,162.70" fill="none" stroke="#ff0000" stroke-width="0.9" stroke-linecap="butt" stroke-linejoin="round"/>
<polyline points="415.30,169.20 443.60,169.20" fill="none" stroke="#ff0000" stroke-width="0.5" stroke-linecap="butt" stroke-linejoin="round"/>
<polyline points="413.60,175.20 443.60,175.20" fill="none" stroke="#ff0000" stroke-width="0.5" stroke-linecap="butt" stroke-linejoin="round"/>
<polyline points="413.60,169.20 413.60,175.20" fill="none" stroke="#ff0000" stroke-width="0.5" stroke-linecap="butt" stroke-linejoin="round"/>
<polyline points="399.00,181.30 443.60,181.30" fill="none" stroke="#ff0000" stroke-width="0.5" stroke-linecap="butt" stroke-linejoin="round"/>
<polyline points="395.80,187.10 443.60,187.10" fill="none" stroke="#ff0000" stroke-width="1.1" stroke-linecap="butt" stroke-linejoin="round"/>
<polyline points="390.70,193.50 443.60,193.50" fill="none" stroke="#ff0000" stroke-width="0.5" stroke-linecap="butt" stroke-linejoin="round"/>
<polyline points="385.70,199.30 443.60,199.30" fill="none" stroke="#ff0000" stroke-width="0.7" stroke-linecap="butt" stroke-linejoin="round"/>
<polyline points="378.00,205.50 443.60,205.50" fill="none" stroke="#ff0000" stroke-width="0.5" stroke-linecap="butt" stroke-linejoin="round"/>
<polyline points="373.30,214.80 433.30,214.80" fill="none" stroke="#ff0000" stroke-width="0.9" stroke-linecap="butt" stroke-linejoin="round"/>
<polyline points="373.30,211.00 373.30,214.80" fill="none" stroke="#ff0000" stroke-width="0.8" stroke-linecap="butt" stroke-linejoin="round"/>
<polyline points="433.30,211.80 433.30,218.00" fill="none" stroke="#ff0000" stroke-width="0.6" stroke-linecap="butt" stroke-linejoin="round"/>
<polyline points="433.30,211.80 443.60,211.80" fill="none" stroke="#ff0000" stroke-width="0.45" stroke-linecap="butt" stroke-linejoin="round"/>
<polyline points="433.30,218.00 443.60,218.00" fill="none" stroke="#ff0000" stroke-width="0.45" stroke-linecap="butt" stroke-linejoin="round"/>
<polyline points="353.60,227.00 362.30,227.00" fill="none" stroke="#ff0000" stroke-width="0.8" stroke-linecap="butt" stroke-linejoin="round"/>
<polyline points="362.30,224.00 362.30,230.40" fill="none" stroke="#ff0000" stroke-width="0.5" stroke-linecap="butt" stroke-linejoin="round"/>
<polyline points="362.30,224.00 443.60,224.00" fill="none" stroke="#ff0000" stroke-width="0.5" stroke-linecap="butt" stroke-linejoin="round"/>
<polyline points="362.30,230.40 443.60,230.40" fill="none" stroke="#ff0000" stroke-width="0.5" stroke-linecap="butt" stroke-linejoin="round"/>
<polyline points="349.50,236.40 443.60,236.40" fill="none" stroke="#ff0000" stroke-width="1.0" stroke-linecap="butt" stroke-linejoin="round"/>
<polyline points="348.50,242.30 443.60,242.30" fill="none" stroke="#ff0000" stroke-width="1.0" stroke-linecap="butt" stroke-linejoin="round"/>
<polyline points="347.40,248.20 443.60,248.20" fill="none" stroke="#ff0000" stroke-width="0.5" stroke-linecap="butt" stroke-linejoin="round"/>
<polyline points="341.30,254.30 443.60,254.30" fill="none" stroke="#ff0000" stroke-width="0.35" stroke-linecap="butt" stroke-linejoin="round"/>
<circle cx="414.6" cy="163.5" r="3.4" fill="#ff0000"/>
<circle cx="256.5" cy="159.6" r="4.0" fill="#ff0000"/>
<circle cx="274.6" cy="183.0" r="4.8" fill="#ff0000"/>
<circle cx="276.8" cy="193.0" r="4.6" fill="#ff0000"/>
<circle cx="344.8" cy="231.0" r="5.6" fill="#ff0000"/>
<circle cx="348.2" cy="220.0" r="5.3" fill="#ff0000"/>
<circle cx="303.5" cy="224.5" r="5.2" fill="#ff0000"/>
<rect x="590.1" y="172.4" width="12.4" height="19.5" rx="2.6" fill="#ff0000"/>
<polyline points="488.90,162.30 494.40,162.30" fill="none" stroke="#ff0000" stroke-width="0.6" stroke-linecap="butt" stroke-linejoin="round"/>
<polyline points="488.90,167.30 494.40,167.30" fill="none" stroke="#ff0000" stroke-width="0.5" stroke-linecap="butt" stroke-linejoin="round"/>
<polyline points="494.40,162.30 494.40,167.30" fill="none" stroke="#ff0000" stroke-width="0.6" stroke-linecap="butt" stroke-linejoin="round"/>
<polyline points="494.40,165.30 516.40,165.30" fill="none" stroke="#ff0000" stroke-width="1.2" stroke-linecap="butt" stroke-linejoin="round"/>
<polyline points="488.90,172.40 516.40,172.40" fill="none" stroke="#ff0000" stroke-width="1.0" stroke-linecap="butt" stroke-linejoin="round"/>
<polyline points="516.40,165.30 516.40,172.40" fill="none" stroke="#ff0000" stroke-width="1.0" stroke-linecap="butt" stroke-linejoin="round"/>
<polyline points="516.40,168.70 543.70,168.70" fill="none" stroke="#ff0000" stroke-width="1.7" stroke-linecap="round" stroke-linejoin="round"/>
<polyline points="488.90,177.70 521.90,177.70" fill="none" stroke="#ff0000" stroke-width="1.2" stroke-linecap="butt" stroke-linejoin="round"/>
<polyline points="488.90,182.30 521.90,182.30" fill="none" stroke="#ff0000" stroke-width="0.55" stroke-linecap="butt" stroke-linejoin="round"/>
<polyline points="521.90,177.70 521.90,182.30" fill="none" stroke="#ff0000" stroke-width="0.8" stroke-linecap="butt" stroke-linejoin="round"/>
<polyline points="521.90,180.40 536.10,180.40" fill="none" stroke="#ff0000" stroke-width="1.5" stroke-linecap="round" stroke-linejoin="round"/>
<polyline points="488.90,187.40 536.10,187.40" fill="none" stroke="#ff0000" stroke-width="1.4" stroke-linecap="butt" stroke-linejoin="round"/>
<polyline points="536.10,180.40 536.10,187.40" fill="none" stroke="#ff0000" stroke-width="1.2" stroke-linecap="butt" stroke-linejoin="round"/>
<polyline points="536.10,183.70 543.70,183.70" fill="none" stroke="#ff0000" stroke-width="2.0" stroke-linecap="round" stroke-linejoin="round"/>
<polyline points="543.70,168.70 543.70,183.70" fill="none" stroke="#ff0000" stroke-width="1.8" stroke-linecap="round" stroke-linejoin="round"/>
<polyline points="543.70,176.30 555.80,176.30 555.80,184.20 560.20,184.20 560.20,209.00" fill="none" stroke="#ff0000" stroke-width="2.8" stroke-linecap="round" stroke-linejoin="round"/>
<polyline points="488.90,192.30 555.80,192.30" fill="none" stroke="#ff0000" stroke-width="0.55" stroke-linecap="butt" stroke-linejoin="round"/>
<polyline points="488.60,197.60 505.40,197.60" fill="none" stroke="#ff0000" stroke-width="2.0" stroke-linecap="round" stroke-linejoin="round"/>
<polyline points="488.90,202.40 505.40,202.40" fill="none" stroke="#ff0000" stroke-width="0.55" stroke-linecap="butt" stroke-linejoin="round"/>
<polyline points="505.40,197.60 505.40,202.40" fill="none" stroke="#ff0000" stroke-width="0.6" stroke-linecap="butt" stroke-linejoin="round"/>
<polyline points="505.40,199.90 536.00,199.90 536.00,203.50 542.40,203.50 542.40,207.60 546.00,207.60 546.00,211.30 550.10,211.30 550.10,215.30 552.00,215.30 552.00,221.00" fill="none" stroke="#ff0000" stroke-width="3.0" stroke-linecap="round" stroke-linejoin="round"/>
<polyline points="488.90,207.30 542.00,207.30" fill="none" stroke="#ff0000" stroke-width="0.55" stroke-linecap="butt" stroke-linejoin="round"/>
<polyline points="488.90,212.40 546.00,212.40" fill="none" stroke="#ff0000" stroke-width="1.0" stroke-linecap="butt" stroke-linejoin="round"/>
<polyline points="488.90,217.40 549.60,217.40" fill="none" stroke="#ff0000" stroke-width="1.0" stroke-linecap="butt" stroke-linejoin="round"/>
<polyline points="488.90,222.40 551.50,222.40" fill="none" stroke="#ff0000" stroke-width="0.65" stroke-linecap="butt" stroke-linejoin="round"/>
<polyline points="488.90,227.40 553.00,227.40" fill="none" stroke="#ff0000" stroke-width="0.65" stroke-linecap="butt" stroke-linejoin="round"/>
<polyline points="488.90,232.40 491.00,232.40" fill="none" stroke="#ff0000" stroke-width="0.6" stroke-linecap="butt" stroke-linejoin="round"/>
<polyline points="488.90,237.20 491.00,237.20" fill="none" stroke="#ff0000" stroke-width="0.6" stroke-linecap="butt" stroke-linejoin="round"/>
<polyline points="491.00,232.40 491.00,237.20" fill="none" stroke="#ff0000" stroke-width="0.6" stroke-linecap="butt" stroke-linejoin="round"/>
<polyline points="491.00,234.80 554.50,234.80" fill="none" stroke="#ff0000" stroke-width="1.3" stroke-linecap="butt" stroke-linejoin="round"/>
<polyline points="488.90,242.40 556.00,242.40" fill="none" stroke="#ff0000" stroke-width="1.0" stroke-linecap="butt" stroke-linejoin="round"/>
<polyline points="488.90,247.30 558.90,247.30" fill="none" stroke="#ff0000" stroke-width="1.3" stroke-linecap="butt" stroke-linejoin="round"/>
<polyline points="558.90,243.00 558.90,247.30" fill="none" stroke="#ff0000" stroke-width="1.0" stroke-linecap="butt" stroke-linejoin="round"/>
<polyline points="488.90,252.40 560.70,252.40" fill="none" stroke="#ff0000" stroke-width="0.7" stroke-linecap="butt" stroke-linejoin="round"/>
<polyline points="560.70,246.00 560.70,252.40" fill="none" stroke="#ff0000" stroke-width="0.6" stroke-linecap="butt" stroke-linejoin="round"/>
<polyline points="560.50,211.50 560.30,242.00" fill="none" stroke="#ff0000" stroke-width="8.5" stroke-linecap="round" stroke-linejoin="round"/>
<polyline points="561.00,219.00 560.80,231.00" fill="none" stroke="#ff0000" stroke-width="13.0" stroke-linecap="round" stroke-linejoin="round"/>
<polyline points="569.80,180.40 569.80,215.00" fill="none" stroke="#ff0000" stroke-width="9.8" stroke-linecap="round" stroke-linejoin="round"/>
<polyline points="567.00,216.00 564.50,224.00 563.50,232.00" fill="none" stroke="#ff0000" stroke-width="6.5" stroke-linecap="round" stroke-linejoin="round"/>
<polyline points="569.60,188.00 597.70,188.00" fill="none" stroke="#ff0000" stroke-width="7.6" stroke-linecap="round" stroke-linejoin="round"/>
<polyline points="599.50,180.00 599.50,193.60 611.00,193.60" fill="none" stroke="#ff0000" stroke-width="6.3" stroke-linecap="round" stroke-linejoin="round"/>
<polyline points="611.00,193.60 611.00,189.90 619.50,189.90" fill="none" stroke="#ff0000" stroke-width="5.8" stroke-linecap="round" stroke-linejoin="round"/>
<polyline points="619.50,189.90 619.50,185.90 634.00,185.90" fill="none" stroke="#ff0000" stroke-width="5.6" stroke-linecap="round" stroke-linejoin="round"/>
<polyline points="634.00,185.90 635.50,178.00 636.40,169.60 666.30,169.60" fill="none" stroke="#ff0000" stroke-width="3.6" stroke-linecap="round" stroke-linejoin="round"/>
<polyline points="666.30,169.60 666.30,167.30 678.00,167.30" fill="none" stroke="#ff0000" stroke-width="2.5" stroke-linecap="round" stroke-linejoin="round"/>
<polyline points="570.10,149.10 570.10,176.00" fill="none" stroke="#ff0000" stroke-width="1.0" stroke-linecap="butt" stroke-linejoin="round"/>
<polyline points="570.10,149.10 677.70,149.10" fill="none" stroke="#ff0000" stroke-width="1.0" stroke-linecap="butt" stroke-linejoin="round"/>
<polyline points="599.30,157.40 599.30,172.40" fill="none" stroke="#ff0000" stroke-width="1.0" stroke-linecap="butt" stroke-linejoin="round"/>
<polyline points="599.30,157.40 639.10,157.40" fill="none" stroke="#ff0000" stroke-width="1.0" stroke-linecap="butt" stroke-linejoin="round"/>
<polyline points="639.10,154.10 639.10,160.60" fill="none" stroke="#ff0000" stroke-width="0.7" stroke-linecap="butt" stroke-linejoin="round"/>
<polyline points="639.10,154.10 677.70,154.10" fill="none" stroke="#ff0000" stroke-width="0.5" stroke-linecap="butt" stroke-linejoin="round"/>
<polyline points="639.10,160.60 651.50,160.60" fill="none" stroke="#ff0000" stroke-width="0.9" stroke-linecap="butt" stroke-linejoin="round"/>
<polyline points="651.50,158.60 651.50,162.60" fill="none" stroke="#ff0000" stroke-width="0.7" stroke-linecap="butt" stroke-linejoin="round"/>
<polyline points="651.50,158.60 677.70,158.60" fill="none" stroke="#ff0000" stroke-width="0.9" stroke-linecap="butt" stroke-linejoin="round"/>
<polyline points="651.50,162.60 677.70,162.60" fill="none" stroke="#ff0000" stroke-width="0.5" stroke-linecap="butt" stroke-linejoin="round"/>
<polyline points="666.30,172.00 677.70,172.00" fill="none" stroke="#ff0000" stroke-width="0.5" stroke-linecap="butt" stroke-linejoin="round"/>
<polyline points="666.30,169.60 666.30,172.00" fill="none" stroke="#ff0000" stroke-width="0.5" stroke-linecap="butt" stroke-linejoin="round"/>
<polyline points="637.10,176.20 677.70,176.20" fill="none" stroke="#ff0000" stroke-width="1.0" stroke-linecap="butt" stroke-linejoin="round"/>
<polyline points="637.10,180.90 677.70,180.90" fill="none" stroke="#ff0000" stroke-width="0.4" stroke-linecap="butt" stroke-linejoin="round"/>
<polyline points="635.40,185.60 677.70,185.60" fill="none" stroke="#ff0000" stroke-width="1.0" stroke-linecap="butt" stroke-linejoin="round"/>
<polyline points="633.60,189.80 677.70,189.80" fill="none" stroke="#ff0000" stroke-width="0.6" stroke-linecap="butt" stroke-linejoin="round"/>
<polyline points="633.60,185.60 633.60,189.80" fill="none" stroke="#ff0000" stroke-width="0.6" stroke-linecap="butt" stroke-linejoin="round"/>
<polyline points="620.00,194.30 677.70,194.30" fill="none" stroke="#ff0000" stroke-width="1.0" stroke-linecap="butt" stroke-linejoin="round"/>
<polyline points="620.00,189.30 620.00,194.30" fill="none" stroke="#ff0000" stroke-width="0.8" stroke-linecap="butt" stroke-linejoin="round"/>
<polyline points="611.20,198.60 677.70,198.60" fill="none" stroke="#ff0000" stroke-width="0.45" stroke-linecap="butt" stroke-linejoin="round"/>
<polyline points="593.60,203.20 677.70,203.20" fill="none" stroke="#ff0000" stroke-width="0.7" stroke-linecap="butt" stroke-linejoin="round"/>
<polyline points="593.60,193.00 593.60,203.20" fill="none" stroke="#ff0000" stroke-width="0.7" stroke-linecap="butt" stroke-linejoin="round"/>
<polyline points="575.30,211.10 634.20,211.10" fill="none" stroke="#ff0000" stroke-width="1.2" stroke-linecap="butt" stroke-linejoin="round"/>
<polyline points="634.20,208.00 634.20,214.70" fill="none" stroke="#ff0000" stroke-width="0.8" stroke-linecap="butt" stroke-linejoin="round"/>
<polyline points="634.20,208.00 677.70,208.00" fill="none" stroke="#ff0000" stroke-width="0.5" stroke-linecap="butt" stroke-linejoin="round"/>
<polyline points="634.20,214.70 652.50,214.70" fill="none" stroke="#ff0000" stroke-width="0.8" stroke-linecap="butt" stroke-linejoin="round"/>
<polyline points="652.50,212.70 652.50,217.10" fill="none" stroke="#ff0000" stroke-width="0.6" stroke-linecap="butt" stroke-linejoin="round"/>
<polyline points="652.50,212.70 677.70,212.70" fill="none" stroke="#ff0000" stroke-width="0.45" stroke-linecap="butt" stroke-linejoin="round"/>
<polyline points="652.50,217.10 677.70,217.10" fill="none" stroke="#ff0000" stroke-width="0.45" stroke-linecap="butt" stroke-linejoin="round"/>
<polyline points="570.00,221.30 677.70,221.30" fill="none" stroke="#ff0000" stroke-width="1.0" stroke-linecap="butt" stroke-linejoin="round"/>
<polyline points="569.10,221.30 569.10,230.30" fill="none" stroke="#ff0000" stroke-width="0.6" stroke-linecap="butt" stroke-linejoin="round"/>
<polyline points="569.10,226.20 677.70,226.20" fill="none" stroke="#ff0000" stroke-width="0.4" stroke-linecap="butt" stroke-linejoin="round"/>
<polyline points="569.10,230.30 677.70,230.30" fill="none" stroke="#ff0000" stroke-width="0.6" stroke-linecap="butt" stroke-linejoin="round"/>
<polyline points="566.20,235.00 677.70,235.00" fill="none" stroke="#ff0000" stroke-width="0.4" stroke-linecap="butt" stroke-linejoin="round"/>
<polyline points="564.20,239.40 677.70,239.40" fill="none" stroke="#ff0000" stroke-width="0.65" stroke-linecap="butt" stroke-linejoin="round"/>
<circle cx="560.0" cy="212.5" r="5.3" fill="#ff0000"/>
<circle cx="574.6" cy="199.0" r="4.6" fill="#ff0000"/>
<circle cx="634.6" cy="181.5" r="2.8" fill="#ff0000"/>

</svg></body></html>
